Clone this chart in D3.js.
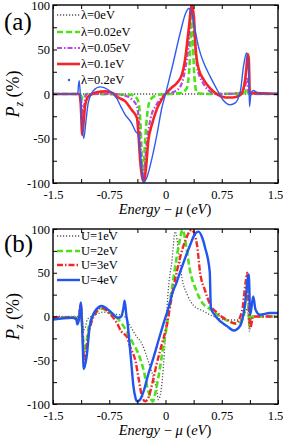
<!DOCTYPE html>
<html>
<head>
<meta charset="utf-8">
<script src="https://cdn.jsdelivr.net/npm/d3@7"></script>
<style>
body { margin: 0; background: #fff; }
svg text { font-family: "Liberation Serif", "DejaVu Serif", "Times New Roman", serif; }
</style>
</head>
<body>
<svg width="283" height="439"></svg>
<script>
// energy ticks and labels (shared by both panels)
var energyTicks = [-1.5, -1.125, -0.75, -0.375, 0, 0.375, 0.75, 1.125, 1.5]
var energyLabels = [-1.5, -0.75, 0, 0.75, 1.5]
var pzTicks = [-100, -75, -50, -25, 0, 25, 50, 75, 100]
var pzLabels = [-100, -50, 0, 50, 100]

// panel (a): spin-orbit strength lambda, [energy, Pz]
var lamNames = ['\u03bb=0eV', '\u03bb=0.02eV', '\u03bb=0.05eV', '\u03bb=0.1eV', '\u03bb=0.2eV']
var lam0 = [[-1.5,0],[-1.1,0],[-0.3,0],[0,0],[0.35,0],[1.1,0],[1.5,0]]
var lam002 = [[-1.5,0],[-1.14,0],[-1.1,-6],[-1.06,0],[-0.45,-1],[-0.38,-5],[-0.35,-15],[-0.33,-40],[-0.315,-75],[-0.305,-95],[-0.29,-80],[-0.27,-50],[-0.24,-20],[-0.2,-6],[-0.1,-1],[0.2,1],[0.28,6],[0.32,31],[0.34,75],[0.35,92],[0.36,85],[0.37,50],[0.39,14],[0.42,1],[0.6,0],[1.05,1],[1.09,5],[1.11,0],[1.5,0]]
var lam005 = [[-1.5,0],[-1.14,0],[-1.12,-10],[-1.1,-28],[-1.08,-10],[-1.05,0],[-0.7,0],[-0.54,-2],[-0.45,-6],[-0.38,-14],[-0.35,-35],[-0.32,-75],[-0.3,-97],[-0.28,-85],[-0.25,-55],[-0.2,-28],[-0.12,-12],[-0.05,-4],[0,0],[0.1,2],[0.196,8],[0.26,27],[0.31,57],[0.34,94],[0.35,98],[0.39,64],[0.42,31],[0.49,14],[0.57,4.5],[0.68,0],[1.0,1],[1.06,8],[1.09,19],[1.11,0],[1.5,0]]
var lam01 = [[-1.5,0],[-1.15,0],[-1.13,-12],[-1.11,-46],[-1.09,-30],[-1.07,-12],[-1.04,-4],[-1.0,-1],[-0.92,2],[-0.8,3],[-0.7,1],[-0.63,-4],[-0.54,-8],[-0.45,-18],[-0.38,-27],[-0.36,-46],[-0.34,-72],[-0.31,-94],[-0.29,-98],[-0.26,-83],[-0.23,-53],[-0.18,-34],[-0.115,-17],[-0.05,-6],[0,0],[0.08,7],[0.15,12],[0.22,22],[0.26,38],[0.31,73],[0.35,100],[0.38,85],[0.4,53],[0.44,29],[0.51,16],[0.6,6],[0.7,-1],[0.8,-4],[0.9,-4],[1.0,-1],[1.05,10],[1.08,30],[1.095,45],[1.11,40],[1.125,0],[1.17,1],[1.5,0]]
var lam02 = [[-1.5,0],[-1.17,0],[-1.16,10],[-1.15,15],[-1.13,-10],[-1.09,-50],[-1.06,-30],[-1.03,-10],[-0.96,4],[-0.87,8],[-0.76,4.5],[-0.65,-5],[-0.59,-15],[-0.54,-23],[-0.45,-33],[-0.4,-42],[-0.36,-46],[-0.34,-64],[-0.31,-91],[-0.29,-99],[-0.25,-94],[-0.18,-72],[-0.115,-46],[-0.05,-16],[0,0],[0.03,10],[0.1,34],[0.2,70],[0.27,91],[0.31,96],[0.35,91],[0.37,83],[0.44,53],[0.51,35],[0.6,19],[0.69,4.5],[0.77,-7],[0.86,-12],[0.93,-10],[1.0,4],[1.04,31],[1.08,46],[1.11,23],[1.12,-14],[1.14,1],[1.17,4],[1.26,0],[1.5,1]]

// panel (b): Coulomb U, [energy, Pz]
var uNames = ['U=1eV', 'U=2eV', 'U=3eV', 'U=4eV']
var u1 = [[-1.5,0],[-1.2,0],[-1.14,0],[-1.13,8],[-1.11,-5],[-1.08,-15],[-1.04,-3],[-0.93,2],[-0.83,5],[-0.7,3],[-0.56,1],[-0.49,-8],[-0.4,-21],[-0.31,-32],[-0.23,-51],[-0.16,-70],[-0.115,-85],[-0.096,-95],[-0.06,-85],[-0.03,-59],[0,-21],[0.02,10],[0.04,33],[0.085,63],[0.13,97],[0.18,70],[0.22,44],[0.29,25],[0.37,13],[0.51,6],[0.64,0],[0.82,-4],[1.0,-4],[1.04,0],[1.09,9],[1.12,-17],[1.15,0],[1.5,0]]
var u2 = [[-1.5,-1],[-1.2,-1],[-1.17,-5],[-1.15,0],[-1.13,12],[-1.11,-10],[-1.08,-40],[-1.02,-11],[-0.94,3],[-0.85,9],[-0.72,3],[-0.63,-3],[-0.56,-11],[-0.51,-18],[-0.45,-28],[-0.36,-43],[-0.29,-62],[-0.25,-78],[-0.2,-93],[-0.17,-97],[-0.14,-89],[-0.096,-70],[-0.04,-40],[0.02,-9],[0.06,17],[0.107,44],[0.17,78],[0.23,99],[0.28,78],[0.33,51],[0.4,32],[0.48,17],[0.6,8],[0.73,0],[0.86,-6],[0.97,-8],[1.04,-1],[1.07,25],[1.09,38],[1.11,5],[1.12,-10],[1.15,0],[1.5,0]]
var u3 = [[-1.5,-1],[-1.2,-1],[-1.17,-6],[-1.15,0],[-1.13,14],[-1.11,-15],[-1.08,-51],[-1.03,-22],[-0.94,3],[-0.85,10],[-0.74,3],[-0.65,-7],[-0.59,-17],[-0.55,-20],[-0.51,-24],[-0.47,-35],[-0.4,-51],[-0.36,-70],[-0.32,-89],[-0.27,-97],[-0.23,-93],[-0.18,-78],[-0.12,-55],[-0.05,-32],[0.02,-9],[0.08,21],[0.15,51],[0.26,86],[0.35,99],[0.42,82],[0.46,51],[0.53,29],[0.6,13],[0.69,4],[0.82,-4],[0.93,-8],[1.02,6],[1.07,40],[1.09,50],[1.11,13],[1.13,-13],[1.17,0],[1.5,0]]
var u4 = [[-1.5,-3.5],[-1.25,-1.5],[-1.19,-3],[-1.175,-9],[-1.15,-1],[-1.13,16],[-1.11,-15],[-1.09,-60],[-1.05,-45],[-1.01,-11],[-0.94,6],[-0.85,12],[-0.74,6],[-0.63,-1.5],[-0.59,0],[-0.56,10],[-0.545,18],[-0.52,0],[-0.51,-5],[-0.49,-21],[-0.47,-40],[-0.45,-59],[-0.43,-78],[-0.4,-93],[-0.38,-97],[-0.34,-95],[-0.29,-85],[-0.23,-66],[-0.16,-47],[-0.096,-28],[-0.03,-9],[0.04,10],[0.1,29],[0.14,37],[0.196,51],[0.33,82],[0.39,94],[0.44,97],[0.49,90],[0.53,78],[0.59,51],[0.605,10],[0.69,-2],[0.82,-11],[0.91,-16],[1.0,-10],[1.06,13],[1.11,48],[1.13,2],[1.17,23],[1.2,8],[1.26,2],[1.39,4],[1.5,4]]

var svg = d3.select('svg')
var x = d3.scaleLinear().domain([-1.5, 1.5]).range([53, 278])
var serif = '"Liberation Serif", "DejaVu Serif", "Times New Roman", serif'

// line styles for each curve
var styleA = [
	{data: lam0, color: '#555', width: 1.3, dash: '1.2,1.8'},
	{data: lam002, color: '#4fe01a', width: 2.6, dash: '6,3'},
	{data: lam005, color: '#b548e6', width: 2.2, dash: '5,2,1.5,2'},
	{data: lam01, color: '#f52525', width: 2.6, dash: null},
	{data: lam02, color: '#2f5cf0', width: 1.4, dash: null, dot: true}
]
var styleB = [
	{data: u1, color: '#555', width: 1.3, dash: '1.2,1.8'},
	{data: u2, color: '#4fe01a', width: 2.6, dash: '6,3'},
	{data: u3, color: '#f02828', width: 2.4, dash: '6,2,1.5,2'},
	{data: u4, color: '#2255ee', width: 2.4, dash: null}
]

function drawPanel(id, top, bottom, styles, names, legendY, tag, tagY) {
	var y = d3.scaleLinear().domain([-100, 100]).range([bottom, top])
	var g = svg.append('g')

	g.append('clipPath').attr('id', 'clip' + id)
		.append('rect').attr('x', 53).attr('y', top).attr('width', 225).attr('height', bottom - top)

	var line = d3.line()
		.x(function(d) {return x(d[0])})
		.y(function(d) {return y(d[1])})
		.curve(d3.curveMonotoneX)

	var curves = g.append('g').attr('clip-path', 'url(#clip' + id + ')')
	styles.forEach(function(s) {
		curves.append('path')
			.attr('d', line(s.data))
			.attr('fill', 'none')
			.attr('stroke', s.color)
			.attr('stroke-width', s.width)
			.attr('stroke-dasharray', s.dash)
			.attr('stroke-linejoin', 'round')
	})

	// axes: inward ticks on all four sides
	var fmt = function(d) {return energyLabels.indexOf(d) >= 0 ? String(d) : ''}
	var fmtY = function(d) {return pzLabels.indexOf(d) >= 0 ? String(d) : ''}
	g.append('g').attr('transform', 'translate(0,' + bottom + ')')
		.call(d3.axisBottom(x).tickValues(energyTicks).tickSizeInner(-4).tickSizeOuter(0).tickPadding(7).tickFormat(fmt))
	g.append('g').attr('transform', 'translate(0,' + top + ')')
		.call(d3.axisTop(x).tickValues(energyTicks).tickSizeInner(-4).tickSizeOuter(0).tickFormat(''))
	g.append('g').attr('transform', 'translate(53,0)')
		.call(d3.axisLeft(y).tickValues(pzTicks).tickSizeInner(-4).tickSizeOuter(0).tickPadding(3).tickFormat(fmtY))
	g.append('g').attr('transform', 'translate(278,0)')
		.call(d3.axisRight(y).tickValues(pzTicks).tickSizeInner(-4).tickSizeOuter(0).tickFormat(''))

	g.selectAll('.domain').remove()
	g.selectAll('.tick line').attr('stroke', '#000').attr('stroke-width', 1)
	g.selectAll('.tick text')
		.attr('font-family', serif)
		.attr('font-size', 12.5).attr('fill', '#000')
	// keep the last energy label inside the window, as in the figure
	g.selectAll('.tick text').filter(function(d) {return d === 1.5}).attr('dx', -3)

	g.append('rect')
		.attr('x', 53).attr('y', top).attr('width', 225).attr('height', bottom - top)
		.attr('fill', 'none').attr('stroke', '#000').attr('stroke-width', 1.4)

	// legend
	styles.forEach(function(s, i) {
		var ly = legendY[i]
		if (s.dot) {
			g.append('circle').attr('cx', 69).attr('cy', ly).attr('r', 1.2).attr('fill', s.color)
		} else {
			g.append('line')
				.attr('x1', 57).attr('x2', 80).attr('y1', ly).attr('y2', ly)
				.attr('stroke', s.color).attr('stroke-width', s.width)
				.attr('stroke-dasharray', s.dash)
		}
		g.append('text').attr('x', 81).attr('y', ly + 4.3)
			.attr('font-size', 12.5).text(names[i])
	})

	// panel tag
	g.append('text').attr('x', 4).attr('y', tagY).attr('font-size', 25).text(tag)

	// axis titles
	var xl = g.append('text').attr('x', 165).attr('y', bottom + 31)
		.attr('text-anchor', 'middle').attr('font-size', 14.5)
	xl.append('tspan').attr('font-style', 'italic').text('Energy')
	xl.append('tspan').text(' \u2212 ')
	xl.append('tspan').attr('font-style', 'italic').text('\u03bc')
	xl.append('tspan').text(' (')
	xl.append('tspan').attr('font-style', 'italic').text('eV')
	xl.append('tspan').text(')')

	var midY = (top + bottom) / 2
	var yl = g.append('text')
		.attr('transform', 'translate(19,' + midY + ') rotate(-90)')
		.attr('text-anchor', 'middle').attr('font-size', 18)
	yl.append('tspan').attr('font-style', 'italic').text('P')
	yl.append('tspan').attr('font-style', 'italic').attr('font-size', 12).attr('dy', 4).text('z')
	yl.append('tspan').attr('dy', -4).text(' (%)')
}

drawPanel('a', 5, 183, styleA, lamNames, [15, 32, 48, 64, 80], '(a)', 30)
drawPanel('b', 229, 404, styleB, uNames, [236, 251, 265, 280], '(b)', 252)
</script>
</body>
</html>
